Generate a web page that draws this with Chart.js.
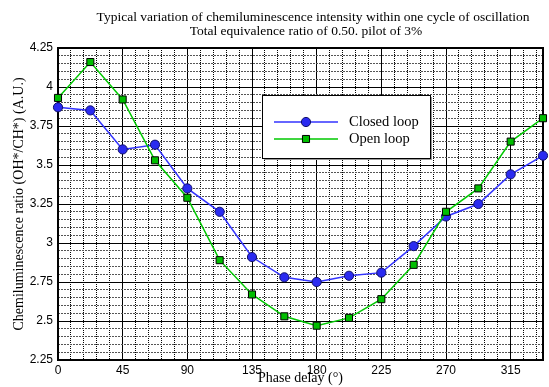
<!DOCTYPE html>
<html>
<head>
<meta charset="utf-8">
<script src="https://cdn.jsdelivr.net/npm/chart.js@4/dist/chart.umd.min.js"></script>
<style>
  body { margin: 0; background: #fff; }
  canvas { display: block; }
</style>
</head>
<body>
<canvas id="chart" width="549" height="387"></canvas>
<script>
// データ
const phase = [0, 22.5, 45, 67.5, 90, 112.5, 135, 157.5, 180, 202.5, 225, 247.5, 270, 292.5, 315, 337.5]
const closedLoop = [3.87, 3.85, 3.60, 3.63, 3.35, 3.20, 2.91, 2.78, 2.75, 2.79, 2.81, 2.98, 3.17, 3.25, 3.44, 3.56]
const openLoop = [3.93, 4.16, 3.92, 3.53, 3.29, 2.89, 2.67, 2.53, 2.47, 2.52, 2.64, 2.86, 3.20, 3.35, 3.65, 3.80]
const xTickLabels = [0, 45, 90, 135, 180, 225, 270, 315]
const yTickLabels = ['2.25', '2.5', '2.75', '3', '3.25', '3.5', '3.75', '4', '4.25']
const titleLines = [
	'Typical variation of chemiluminescence intensity within one cycle of oscillation',
	'Total equivalence ratio of 0.50. pilot of 3%'
]

const serif = '"Liberation Serif", "Times New Roman", serif'
const sans = '"Liberation Sans", Arial, sans-serif'

const isMajorX = v => xTickLabels.includes(v)
const isMajorY = v => yTickLabels.some(t => Math.abs(parseFloat(t) - v) < 1e-6)

// タイトル・枠・凡例
const decoPlugin = {
	id: 'deco',
	beforeDatasetsDraw(chart) {
		const {ctx, chartArea: a} = chart
		ctx.save()
		ctx.strokeStyle = '#000'
		ctx.lineWidth = 2
		ctx.strokeRect(a.left, a.top, a.right - a.left, a.bottom - a.top)
		ctx.restore()
	},
	afterDraw(chart) {
		const {ctx} = chart
		ctx.save()
		ctx.fillStyle = '#000'
		ctx.font = '13.5px ' + serif
		ctx.textAlign = 'center'
		ctx.textBaseline = 'middle'
		ctx.fillText(titleLines[0], 313, 17)
		ctx.fillText(titleLines[1], 306, 31)

		// 凡例
		const bx = 262, by = 95, bw = 168, bh = 63
		ctx.fillStyle = '#999'
		ctx.fillRect(bx + 2, by + 2, bw, bh)
		ctx.fillStyle = '#fff'
		ctx.fillRect(bx, by, bw, bh)
		ctx.strokeStyle = '#000'
		ctx.lineWidth = 1
		ctx.strokeRect(bx + 0.5, by + 0.5, bw, bh)

		const rows = [122, 139]
		chart.data.datasets.forEach((ds, i) => {
			const y = rows[i]
			ctx.strokeStyle = ds.borderColor
			ctx.lineWidth = 1.5
			ctx.beginPath()
			ctx.moveTo(274, y)
			ctx.lineTo(338, y)
			ctx.stroke()
			ctx.fillStyle = ds.pointBackgroundColor
			ctx.strokeStyle = ds.pointBorderColor
			ctx.lineWidth = 1
			Chart.helpers.drawPoint(ctx, {pointStyle: ds.pointStyle, radius: ds.pointRadius, borderWidth: 1}, 306, y)
			ctx.fillStyle = '#000'
			ctx.font = '14.5px ' + serif
			ctx.textAlign = 'left'
			ctx.textBaseline = 'middle'
			ctx.fillText(ds.label, 349, y)
		})
		ctx.restore()
	}
}

const chart = new Chart(document.getElementById('chart'), {
	type: 'line',
	data: {
		datasets: [
			{
				label: 'Closed loop',
				data: phase.map((x, i) => ({x: x, y: closedLoop[i]})),
				borderColor: '#3333ff',
				borderWidth: 1.5,
				pointStyle: 'circle',
				pointRadius: 4.6,
				pointBackgroundColor: '#2a2af0',
				pointBorderColor: '#10106a',
				pointBorderWidth: 1,
				tension: 0,
				clip: false,
				order: 1
			},
			{
				label: 'Open loop',
				data: phase.map((x, i) => ({x: x, y: openLoop[i]})),
				borderColor: '#00c800',
				borderWidth: 1.5,
				pointStyle: 'rect',
				pointRadius: 5,
				pointBackgroundColor: '#00be00',
				pointBorderColor: '#000',
				pointBorderWidth: 1,
				tension: 0,
				clip: false,
				order: 0
			}
		]
	},
	options: {
		responsive: false,
		animation: false,
		layout: {
			padding: {top: 48, right: 1, left: 0, bottom: 0}
		},
		plugins: {
			legend: {display: false},
			tooltip: {enabled: false},
			title: {display: false}
		},
		scales: {
			x: {
				type: 'linear',
				min: 0,
				max: 337.5,
				afterFit: s => { s.height = 27 },
				ticks: {
					stepSize: 9,
					includeBounds: false,
					autoSkip: false,
					maxRotation: 0,
					padding: 3,
					color: '#000',
					font: {family: sans, size: 12},
					callback: v => xTickLabels.includes(v) ? String(v) : ''
				},
				grid: {
					drawTicks: false,
					color: '#000',
					lineWidth: 1
				},
				border: {
					display: false,
					dash: ctx => isMajorX(ctx.tick.value) ? [] : [1, 1]
				},
				title: {
					display: true,
					text: 'Phase delay (°)',
					color: '#000',
					font: {family: serif, size: 14},
					padding: {top: 0, bottom: 0}
				}
			},
			y: {
				type: 'linear',
				min: 2.25,
				max: 4.25,
				afterFit: s => { s.width = 58 },
				ticks: {
					stepSize: 0.05,
					includeBounds: false,
					autoSkip: false,
					padding: 5,
					color: '#000',
					font: {family: sans, size: 12},
					callback: v => {
						const t = yTickLabels.find(l => Math.abs(parseFloat(l) - v) < 1e-6)
						return t || ''
					}
				},
				grid: {
					drawTicks: false,
					color: ctx => isMajorY(ctx.tick.value) ? '#000' : '#555',
					lineWidth: 1
				},
				border: {
					display: false,
					dash: ctx => isMajorY(ctx.tick.value) ? [] : [2, 1]
				},
				title: {
					display: true,
					text: 'Chemiluminescence ratio (OH*/CH*) (A.U.)',
					color: '#000',
					font: {family: serif, size: 14},
					padding: {top: 11, bottom: 0}
				}
			}
		}
	},
	plugins: [decoPlugin]
})
</script>
</body>
</html>
